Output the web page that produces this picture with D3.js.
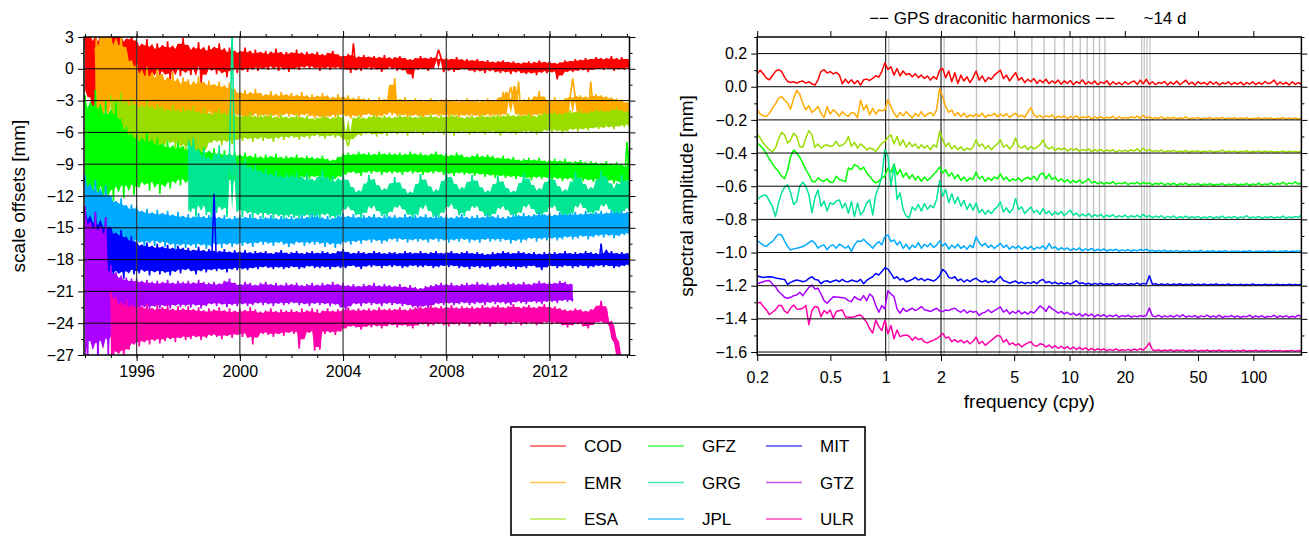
<!DOCTYPE html>
<html><head><meta charset="utf-8">
<script src="https://cdn.jsdelivr.net/npm/d3@7"></script>
<style>
html,body{margin:0;padding:0;background:#fff;}
svg{display:block;font-family:"Liberation Sans",Arial,Helvetica,sans-serif;}
</style></head><body>
<svg id="chart" width="1309" height="536"></svg>
<script>
// Analysis centres and their colours
const centres = ["COD","EMR","ESA","GFZ","GRG","JPL","MIT","GTZ","ULR"];
const colours = ["#ff0000","#ffaa00","#99dd00","#00ff00","#00e693","#00aaff","#0000ff","#aa00ff","#ff00aa"];

// Scale offsets [mm], one value every 0.1 yr starting at the listed epoch
const sampleStep = 0.1;
const offsetStart = [1994.0, 1994.4, 1995.0, 1994.0, 1998.0, 1994.0, 1994.0, 1994.0, 1995.0];

const offCOD = [
3.5,-2.0,4.0,-4.5,2.5,-5.0,3.8,-3.0,4.0,-1.5,
3.5,-2.5,3.8,0.5,3.0,-1.0,2.8,-2.0,3.5,-0.5,
2.5,-0.8,2.2,-0.5,2.8,-1.2,1.8,0.0,2.4,-0.6,
2.0,-0.4,2.6,-1.0,1.9,0.2,2.3,-0.7,2.9,-0.2,
2.1,-0.6,1.8,0.1,2.5,-1.3,1.6,-0.3,2.2,0.0,
1.9,-0.5,2.4,-0.2,1.5,-0.8,2.0,0.1,1.7,-0.4,
1.6,0.0,2.0,-0.3,1.4,0.2,1.8,-0.2,1.5,0.1,
1.7,-0.1,1.3,0.3,1.9,-0.2,1.4,0.2,1.6,-0.3,
1.5,0.1,1.8,-0.1,1.3,0.3,1.6,0.0,1.4,0.2,
1.6,-0.2,1.2,0.2,1.5,-0.1,1.7,0.1,1.3,0.0,
1.2,0.0,1.4,-0.4,2.4,0.1,1.1,-0.2,1.3,0.2,
1.1,-0.1,1.2,0.1,1.0,-0.3,1.3,0.0,0.9,0.2,
1.1,-0.2,1.2,0.0,1.0,-0.4,0.9,-0.9,1.0,-0.1,
1.2,0.0,1.0,-0.2,1.1,0.1,0.9,1.8,1.0,-0.3,
1.0,0.0,0.9,-0.3,1.1,-0.1,0.8,0.0,0.9,-0.2,
0.8,-0.3,0.9,-0.1,0.7,-0.4,0.8,0.0,0.6,-0.3,
0.7,-0.4,0.8,-0.2,0.6,-0.5,0.7,-0.1,0.5,-0.4,
0.6,-0.5,0.7,-0.3,0.5,-0.6,0.8,-0.2,0.6,-0.4,
0.7,-0.3,0.5,-1.0,0.6,-0.5,0.8,-0.2,0.7,-0.3,
0.9,-0.2,0.8,0.0,1.0,-0.3,0.9,-0.1,1.1,0.0,
1.0,-0.1,0.9,0.1,1.2,-0.2,0.8,0.0,1.1,-0.1,
0.9,0.2];

const offEMR = [
2.0,-4.5,3.5,-5.5,3.8,-3.0,
3.5,-4.8,2.0,-2.5,3.6,-4.0,1.5,-3.5,0.8,-4.5,
0.5,-4.6,-0.8,-4.2,0.2,-5.0,-1.0,-3.8,0.0,-4.4,
-0.5,-4.8,-1.2,-4.0,-0.3,-4.5,-1.5,-3.9,-0.8,-4.7,
-1.0,-4.6,-1.6,-4.2,-0.7,-5.0,-1.4,-4.0,-1.1,-4.5,
-1.5,-4.3,-1.2,-4.8,-1.8,-4.1,-1.3,-4.6,-2.0,-4.4,
-2.2,-4.5,-2.0,-4.8,-2.4,-4.2,-1.9,-4.6,-2.3,-4.4,
-2.5,-4.6,-2.1,-4.3,-2.6,-4.7,-2.2,-4.2,-2.4,-4.5,
-2.3,-4.4,-2.6,-4.6,-2.2,-4.3,-2.7,-4.5,-2.4,-4.7,
-2.6,-4.5,-2.3,-4.8,-2.5,-4.4,-2.8,-4.6,-2.4,-4.3,
-2.7,-4.5,-2.5,-4.7,-2.9,-4.4,-2.6,-4.6,-2.8,-4.3,
-2.8,-4.4,-3.0,-4.6,-2.7,-4.5,-2.9,-4.3,-1.6,-4.4,
-0.9,-4.5,-2.9,-4.3,-2.7,-4.6,-3.0,-4.4,-2.8,-4.5,
-2.9,-4.6,-3.0,-4.4,-2.8,-4.3,-3.1,-4.5,-2.9,-4.4,
-2.8,-4.5,-3.0,-4.3,-2.9,-4.6,-3.1,-4.4,-2.8,-4.5,
-3.0,-4.4,-2.9,-4.6,-3.1,-4.3,-2.8,-4.5,-3.0,-4.4,
-2.9,-4.5,-2.2,-4.4,-2.8,-1.7,-3.0,-4.3,-1.2,-4.5,
-3.0,-4.4,-2.7,-4.6,-2.9,-4.3,-2.1,-4.5,-2.8,-4.4,
-2.9,-4.5,-2.7,-4.3,-3.0,-4.6,-2.8,-4.4,-2.6,-0.9,
-2.7,-4.4,-2.5,-4.3,-2.6,-4.5,-1.2,-4.2,-2.4,-4.3,
-2.5,-4.2,-2.6,-4.4,-2.7,-4.3,-2.8,-4.5,-2.9,-4.6,
-3.2,-4.4];

const offESA = [
-2.5,-7.5,-3.0,-8.0,-2.2,-6.8,-3.5,-7.8,-2.8,-7.2,
-3.2,-7.6,-3.6,-6.9,-2.9,-7.4,-3.8,-7.0,-3.3,-7.7,
-3.5,-7.2,-3.9,-6.8,-3.4,-7.5,-4.0,-7.1,-3.6,-7.8,
-3.8,-7.3,-3.5,-7.9,-4.1,-8.5,-3.7,-7.4,-4.2,-7.0,
-4.0,-6.9,-3.8,-7.2,-4.3,-6.8,-3.9,-7.1,-4.4,-6.7,
-4.2,-6.8,-4.5,-6.6,-4.1,-6.9,-4.6,-6.5,-4.3,-6.8,
-4.4,-6.6,-4.2,-6.9,-4.7,-6.4,-4.3,-6.7,-4.5,-6.5,
-4.5,-6.5,-4.3,-6.7,-4.6,-6.4,-4.4,-6.6,-4.7,-6.3,
-4.6,-6.4,-4.4,-6.6,-4.5,-6.3,-4.7,-6.5,-4.3,-6.4,
-4.5,-6.6,-7.3,-6.2,-4.6,-6.4,-4.4,-6.3,-4.7,-6.1,
-4.5,-6.2,-4.3,-6.4,-4.6,-6.1,-4.4,-6.3,-4.5,-6.0,
-4.6,-6.2,-4.3,-6.0,-4.5,-6.3,-4.4,-6.1,-4.6,-5.9,
-4.4,-6.2,-4.5,-6.0,-4.3,-6.1,-4.6,-5.9,-4.4,-6.2,
-4.5,-6.0,-4.3,-6.3,-4.4,-6.1,-4.6,-5.9,-4.5,-6.2,
-4.4,-6.1,-4.6,-6.0,-4.3,-6.2,-4.5,-5.9,-4.4,-6.1,
-4.3,-6.3,-4.5,-6.0,-4.2,-6.1,-4.4,-6.2,-4.3,-5.9,
-4.4,-6.1,-4.2,-5.9,-4.5,-6.2,-4.3,-6.0,-4.1,-5.8,
-4.2,-6.0,-4.0,-5.8,-4.3,-6.1,-4.1,-5.9,-3.9,-5.7,
-4.1,-5.9,-3.9,-5.7,-4.2,-5.8,-4.0,-5.6,-3.8,-5.7,
-3.9,-5.6,-4.0,-5.5,-3.8,-5.7,-3.7,-5.4,-3.9,-5.5,
-4.0,-5.2];

const offGFZ = [
-2.5,-11.5,-3.5,-12.8,-2.0,-10.5,-4.0,-13.0,-3.0,-11.8,
-4.0,-12.5,-3.2,-11.0,-5.0,-12.2,-5.5,-10.8,-6.0,-11.9,
-6.2,-11.2,-6.8,-10.9,-6.0,-11.5,-7.0,-10.6,-6.5,-11.8,
-7.2,-10.8,-6.8,-11.3,-7.5,-10.5,-6.9,-11.0,-7.3,-10.4,
-7.6,-11.2,-7.0,-10.7,-7.8,-11.4,-7.4,-10.9,-7.9,-10.6,
-7.5,-10.8,-8.0,-11.1,-7.7,-10.5,-8.1,-10.9,-7.8,-10.6,
-8.2,-10.4,-7.9,-10.7,-8.3,-10.3,-8.0,-10.6,-8.4,-10.2,
-8.1,-10.5,-8.3,-10.2,-8.0,-10.6,-8.4,-10.3,-8.2,-10.4,
-8.3,-10.2,-8.1,-10.5,-8.4,-10.1,-8.2,-10.4,-8.3,-10.2,
-8.4,-10.3,-8.2,-10.1,-8.5,-10.7,-8.6,-10.4,-8.3,-10.2,
-8.0,-10.0,-7.9,-9.8,-8.1,-9.9,-7.8,-10.1,-8.0,-9.7,
-7.9,-9.9,-8.1,-9.7,-7.8,-10.0,-8.0,-9.8,-7.9,-9.9,
-8.0,-9.8,-7.9,-10.0,-8.1,-9.7,-7.8,-9.9,-8.0,-9.8,
-7.9,-10.0,-8.1,-9.8,-8.0,-9.9,-7.8,-9.7,-8.1,-10.0,
-8.0,-9.9,-8.2,-10.1,-7.9,-9.8,-8.1,-10.0,-8.3,-9.9,
-8.2,-10.1,-8.0,-9.9,-8.3,-10.2,-8.1,-10.0,-8.2,-10.3,
-8.4,-10.1,-8.2,-10.3,-8.5,-10.2,-8.3,-10.4,-8.6,-10.2,
-8.5,-10.3,-8.4,-10.5,-8.6,-10.2,-8.4,-10.4,-8.7,-10.3,
-8.6,-10.5,-8.5,-10.3,-8.7,-10.6,-8.5,-10.4,-8.8,-10.5,
-8.7,-10.4,-8.6,-10.6,-8.9,-10.5,-8.7,-10.7,-8.8,-10.4,
-8.9,-10.6,-8.7,-10.5,-9.0,-10.8,-8.8,-10.6,-9.1,-10.9,
-6.9,-10.3];

const offGRG = [
-7.0,-13.5,-6.5,-14.0,-8.0,-12.8,-7.5,-13.8,-8.5,-14.2,
-8.0,-13.6,-7.2,-13.2,-8.8,-14.0,-7.8,3.5,-9.0,-13.5,
-8.8,-14.0,-8.5,-13.6,-9.3,-14.2,-9.0,-13.8,-9.6,-14.1,
-9.4,-13.8,-9.9,-14.2,-9.6,-13.9,-10.1,-14.3,-9.8,-14.0,
-10.0,-14.1,-9.7,-14.3,-10.3,-13.9,-9.9,-14.2,-10.4,-14.0,
-10.2,-14.2,-9.5,-13.8,-10.5,-14.1,-10.1,-14.3,-10.6,-13.9,
-9.8,-13.0,-10.6,-13.3,-11.3,-13.8,-11.7,-14.1,-11.1,-13.6,
-10.0,-12.8,-10.4,-13.4,-11.1,-13.9,-11.5,-14.0,-10.9,-13.5,
-10.2,-12.9,-10.8,-13.2,-11.4,-13.7,-11.8,-14.2,-11.3,-13.8,
-9.9,-12.7,-10.5,-13.3,-11.2,-14.0,-11.6,-14.1,-11.0,-13.6,
-9.6,-12.8,-10.3,-13.1,-11.0,-13.8,-11.4,-13.9,-10.8,-13.4,
-10.0,-12.9,-10.6,-13.4,-11.3,-13.9,-11.7,-14.2,-11.1,-13.7,
-10.1,-13.0,-10.7,-13.3,-11.4,-13.8,-11.6,-14.0,-11.2,-13.6,
-9.8,-12.7,-10.4,-13.2,-11.1,-13.7,-11.5,-14.1,-10.9,-13.5,
-9.9,-12.8,-10.5,-13.4,-11.2,-13.9,-11.6,-14.0,-11.0,-13.7,
-9.7,-12.6,-10.3,-13.1,-11.0,-13.6,-11.4,-13.9,-10.8,-13.4,
-9.6,-12.7,-10.2,-13.2,-10.9,-13.8,-11.3,-14.0,-10.0,-13.3,
-10.6,-13.4];

const offJPL = [
-10.0,-16.5,-11.5,-17.2,-10.5,-16.0,-12.0,-17.0,-11.0,-16.8,
-12.0,-16.6,-12.5,-16.2,-12.2,-16.9,-13.0,-16.0,-12.8,-16.5,
-13.0,-16.4,-13.4,-16.8,-13.2,-16.2,-13.6,-16.7,-13.3,-16.3,
-13.6,-16.8,-13.4,-16.5,-13.8,-17.0,-13.5,-16.6,-13.9,-16.9,
-13.7,-16.7,-14.0,-16.9,-13.6,-16.6,-13.9,-17.0,-13.8,-16.8,
-13.7,-16.6,-14.0,-16.9,-13.8,-16.5,-14.1,-16.8,-13.9,-16.6,
-13.8,-16.7,-14.0,-16.5,-13.7,-16.8,-14.1,-16.4,-13.9,-16.6,
-14.0,-16.5,-13.8,-16.7,-14.1,-16.4,-13.9,-16.6,-14.0,-16.8,
-13.9,-16.6,-14.1,-16.4,-13.8,-16.7,-14.0,-16.5,-13.7,-16.6,
-13.8,-16.5,-14.0,-16.8,-13.9,-16.4,-14.1,-16.9,-13.8,-16.6,
-13.6,-16.4,-13.9,-16.6,-13.7,-16.3,-14.0,-16.5,-13.8,-16.2,
-13.9,-16.4,-13.7,-16.2,-14.0,-16.5,-13.8,-16.3,-13.9,-16.1,
-13.8,-16.3,-14.0,-16.1,-13.7,-16.4,-13.9,-16.2,-13.8,-16.3,
-13.9,-16.2,-13.7,-16.4,-14.0,-16.1,-13.8,-16.3,-13.9,-16.2,
-13.8,-16.4,-14.0,-16.2,-13.9,-16.3,-13.7,-16.1,-14.0,-16.4,
-13.9,-16.2,-13.8,-16.4,-14.0,-16.1,-13.7,-16.3,-13.9,-16.2,
-13.8,-16.3,-14.0,-16.1,-13.9,-16.5,-13.7,-16.2,-13.8,-16.4,
-13.6,-16.2,-13.8,-16.0,-13.7,-16.3,-13.5,-16.1,-13.7,-16.2,
-13.6,-16.0,-13.8,-16.2,-13.5,-16.1,-13.7,-15.9,-13.6,-16.1,
-13.5,-16.0,-13.7,-15.8,-13.4,-16.1,-13.6,-15.9,-13.5,-15.8,
-13.4,-15.9,-13.6,-15.7,-13.3,-16.0,-13.5,-15.8,-13.4,-15.7,
-13.5,-15.6];

const offMIT = [
-13.0,-19.8,-14.5,-20.5,-13.5,-19.0,-15.0,-20.2,-14.0,-19.5,
-15.0,-19.6,-15.5,-19.2,-15.2,-19.8,-16.0,-19.0,-15.8,-19.4,
-16.3,-19.3,-16.6,-19.0,-16.4,-19.5,-16.8,-19.1,-16.5,-19.4,
-16.8,-19.2,-16.6,-19.5,-17.0,-19.0,-16.7,-19.3,-16.9,-18.9,
-16.9,-19.1,-17.1,-19.4,-16.8,-18.9,-17.2,-19.2,-17.0,-19.0,
-11.8,-19.1,-17.2,-18.9,-17.0,-19.2,-17.3,-18.8,-17.1,-19.0,
-17.3,-18.9,-17.1,-19.0,-17.4,-18.8,-17.2,-18.9,-17.3,-18.7,
-17.2,-18.8,-17.4,-18.9,-17.3,-18.7,-17.1,-18.9,-17.4,-18.8,
-17.3,-18.7,-17.2,-18.9,-17.4,-18.8,-17.3,-18.6,-17.2,-18.8,
-17.4,-18.8,-17.2,-18.7,-17.3,-18.9,-17.4,-18.7,-17.2,-18.8,
-17.0,-18.8,-17.3,-18.6,-17.4,-18.7,-17.2,-18.9,-17.3,-18.6,
-17.4,-18.7,-17.2,-18.6,-17.3,-18.8,-17.4,-18.6,-17.3,-18.7,
-17.3,-18.6,-17.4,-18.8,-17.2,-18.7,-17.3,-18.6,-17.4,-18.7,
-17.2,-18.7,-17.4,-18.6,-17.3,-18.8,-17.2,-18.7,-17.4,-18.6,
-17.3,-18.7,-17.2,-18.6,-17.4,-18.8,-17.3,-18.7,-17.2,-18.9,
-17.4,-18.6,-17.3,-18.8,-17.4,-18.7,-17.5,-18.9,-17.3,-18.6,
-17.4,-18.7,-17.2,-18.8,-17.3,-18.6,-17.4,-18.9,-17.2,-18.7,
-17.3,-18.8,-17.4,-18.6,-17.3,-18.7,-17.5,-19.0,-17.3,-18.7,
-17.4,-18.6,-17.3,-18.8,-17.4,-18.7,-17.2,-18.6,-17.4,-18.8,
-17.3,-18.7,-17.4,-18.6,-17.2,-18.8,-17.3,-18.7,-17.4,-18.6,
-16.5,-18.7,-17.3,-18.6,-17.2,-18.8,-17.4,-18.7,-17.3,-18.6,
-17.4,-18.5];

const offGTZ = [
-13.0,-27.5,-14.5,-26.0,-13.5,-27.8,-15.0,-25.5,-14.0,-27.2,
-18.5,-24.5,-19.2,-23.5,-19.5,-23.2,-19.7,-23.0,-19.8,-22.8,
-19.8,-22.6,-20.0,-22.5,-19.9,-22.7,-20.1,-22.4,-20.0,-22.6,
-20.1,-22.4,-19.9,-22.6,-20.2,-22.3,-20.0,-22.5,-20.1,-22.4,
-20.0,-22.5,-20.2,-22.3,-19.9,-22.6,-20.1,-22.4,-20.2,-22.2,
-20.1,-22.4,-20.3,-22.2,-20.0,-22.5,-19.8,-22.3,-20.2,-22.4,
-20.3,-22.2,-20.1,-22.4,-20.2,-22.3,-20.4,-22.1,-20.2,-22.3,
-20.1,-22.2,-20.3,-22.4,-20.2,-22.1,-20.4,-22.3,-20.2,-22.2,
-20.3,-22.1,-20.2,-22.3,-20.4,-22.2,-20.3,-22.4,-20.2,-22.1,
-20.4,-22.3,-20.2,-22.2,-20.3,-22.4,-20.1,-22.2,-20.3,-22.5,
-20.2,-22.9,-20.4,-22.3,-20.3,-22.2,-20.5,-22.4,-20.3,-22.1,
-20.4,-22.3,-20.2,-22.2,-20.5,-22.4,-20.3,-22.1,-20.4,-22.3,
-20.5,-22.2,-20.3,-22.4,-20.6,-22.3,-20.4,-22.5,-20.6,-22.6,
-20.7,-22.4,-20.5,-22.6,-20.4,-22.3,-20.3,-22.2,-20.2,-22.3,
-20.3,-22.1,-20.2,-22.3,-20.4,-22.2,-20.3,-22.1,-20.2,-22.3,
-20.3,-22.2,-20.1,-22.1,-20.3,-22.3,-20.2,-22.0,-20.4,-22.2,
-20.2,-22.1,-20.3,-22.2,-20.1,-22.3,-20.2,-22.0,-20.3,-22.1,
-20.1,-22.2,-20.3,-22.0,-20.2,-22.1,-20.0,-22.2,-20.2,-22.0,
-20.1,-22.0,-20.2,-22.1,-20.0,-21.9,-20.1,-22.0,-20.3,-21.9];

const offULR = [
-21.0,-27.5,-21.5,-26.8,-22.0,-27.2,-21.8,-26.5,-22.3,-26.0,
-22.0,-26.2,-22.4,-25.8,-22.2,-26.0,-22.6,-25.6,-22.3,-25.9,
-22.5,-25.7,-22.3,-25.5,-22.7,-25.8,-22.4,-25.4,-22.6,-25.6,
-22.4,-25.5,-22.7,-25.3,-22.5,-25.6,-22.8,-25.4,-22.6,-25.2,
-22.7,-25.3,-22.5,-25.5,-22.8,-25.2,-22.6,-25.4,-22.9,-25.1,
-22.6,-25.3,-22.8,-25.0,-22.5,-26.0,-22.7,-25.2,-22.9,-25.0,
-22.8,-25.1,-22.6,-25.3,-22.9,-25.0,-22.7,-25.2,-22.8,-24.9,
-22.7,-25.0,-22.9,-26.4,-22.6,-25.1,-22.8,-24.9,-22.6,-26.6,
-22.7,-26.5,-22.8,-25.0,-22.6,-24.9,-22.8,-25.1,-22.7,-24.8,
-22.7,-24.5,-22.5,-24.3,-22.8,-24.4,-22.6,-24.6,-22.7,-24.3,
-22.6,-24.4,-22.8,-24.2,-22.5,-24.5,-22.7,-24.3,-22.6,-24.1,
-22.7,-24.4,-22.5,-24.2,-22.8,-24.3,-22.6,-24.5,-22.5,-24.2,
-22.4,-24.1,-22.6,-24.3,-22.3,-24.2,-22.5,-24.0,-22.4,-24.2,
-22.5,-24.3,-22.3,-24.1,-22.6,-24.2,-22.4,-24.0,-22.5,-24.3,
-22.4,-24.1,-22.6,-24.2,-22.3,-24.0,-22.5,-24.3,-22.4,-24.1,
-22.3,-24.0,-22.5,-24.2,-22.4,-24.1,-22.2,-23.9,-22.5,-24.2,
-22.4,-24.1,-22.3,-24.0,-22.5,-24.2,-22.4,-24.1,-22.2,-23.9,
-22.5,-24.1,-22.4,-24.0,-22.6,-24.2,-22.7,-24.4,-22.8,-24.2,
-22.6,-23.9,-22.7,-24.3,-22.9,-24.5,-22.7,-24.1,-22.5,-23.9,
-21.9,-24.0,-22.6,-24.2,-23.8,-25.2,-26.0,-27.4,-27.6,-27.8];

const offsetSeries = [offCOD, offEMR, offESA, offGFZ, offGRG, offJPL, offMIT, offGTZ, offULR];

// Spectral amplitudes [µm] on a log-spaced grid from 0.2 cpy to the daily Nyquist frequency
const fMin = 0.2, fMax = 182.625;
const spectrumShift = [0, -0.2, -0.4, -0.6, -0.8, -1.0, -1.2, -1.4, -1.6];

const ampCOD = [
78,99,78,52,42,66,93,103,93,58,
32,26,30,22,30,34,22,30,18,10,
42,93,103,83,91,78,87,72,18,46,
22,42,18,38,10,42,46,38,50,66,
58,93,143,105,120,70,110,65,95,72,
80,60,78,55,70,50,65,40,62,45,
100,110,55,95,30,85,20,70,35,60,
25,55,95,40,65,30,55,45,70,85,
100,50,70,35,60,85,40,55,25,45,
30,50,20,40,25,45,18,35,22,40,
15,35,20,38,12,30,20,42,15,30,
18,35,12,28,20,36,10,30,15,25,
12,30,15,28,35,14,40,18,45,15,
30,12,25,20,32,10,28,15,35,12,
25,40,15,28,10,30,18,26,12,32,
15,28,10,24,18,30,12,26,15,28,
10,25,16,30,12,26,14,32,18,24,
40,12,28,15,26,10,30,14,25,15];

const ampEMR = [
61,35,25,21,40,70,95,130,141,120,
101,65,130,178,155,100,61,85,45,60,
81,40,15,80,35,61,45,22,50,30,
22,45,40,12,120,60,90,30,70,35,
60,55,60,121,80,40,15,45,25,50,
30,12,40,22,50,20,35,45,25,60,
190,140,80,45,60,25,45,20,40,15,
30,20,35,20,40,15,30,25,40,18,
35,22,38,15,30,40,20,28,15,45,
75,30,15,28,12,25,18,30,10,22,
15,25,8,20,12,24,8,18,14,22,
6,18,10,20,8,16,12,22,6,18,
10,15,8,20,12,22,10,28,12,18,
6,15,10,18,5,14,9,16,6,13,
8,18,5,12,9,15,4,12,8,14,
5,11,7,15,4,12,8,13,5,11,
7,14,4,10,8,13,5,11,7,12,
4,10,8,13,5,11,6,12,5,10];

const ampESA = [
115,90,60,40,20,8,30,85,125,110,
60,80,120,100,40,35,90,135,110,35,
55,30,45,50,40,45,70,40,50,60,
100,40,65,30,55,40,20,30,25,10,
35,60,70,95,110,55,100,45,80,35,
65,40,55,28,50,30,45,20,50,35,
130,80,40,60,25,45,20,38,15,30,
20,35,80,40,55,25,45,20,40,55,
80,35,50,25,45,90,40,30,45,20,
40,25,35,50,78,40,25,38,15,30,
20,32,12,25,18,28,10,22,15,25,
8,20,12,22,8,18,12,20,6,16,
10,18,8,20,12,25,10,30,12,20,
8,15,10,18,6,14,9,16,6,12,
8,15,5,12,8,14,5,12,7,15,
5,11,8,18,5,12,7,13,5,11,
8,14,4,11,7,13,5,12,6,11,
5,10,7,12,5,11,6,10,5,12];

const ampGFZ = [
260,245,225,195,165,135,110,90,60,45,
95,180,218,200,175,140,100,70,30,25,
50,35,30,45,22,25,60,40,35,28,
110,100,130,120,100,115,80,60,35,20,
30,50,60,110,85,135,70,100,55,80,
45,70,38,60,30,55,35,50,70,90,
115,80,100,60,80,45,70,35,55,30,
50,40,85,45,60,30,50,35,55,45,
75,40,55,30,45,35,50,30,45,55,
40,60,35,70,80,45,75,40,55,30,
45,25,40,20,35,22,38,18,30,45,
20,28,15,25,12,22,15,28,12,20,
14,24,10,20,14,25,12,22,15,20,
8,18,12,20,8,16,10,18,6,15,
10,18,6,14,9,16,6,13,9,15,
6,12,9,16,5,13,8,15,6,12,
9,16,6,13,9,18,7,14,10,20,
8,16,12,24,10,20,14,26,12,22];

const ampGRG = [
118,135,145,145,110,78,17,98,160,195,
208,160,90,110,200,225,200,150,40,130,
178,78,110,50,100,90,110,118,68,98,
37,108,17,98,27,50,98,118,27,150,
195,260,420,380,200,330,120,160,60,20,
10,75,55,90,50,95,60,85,70,120,
235,140,180,100,155,95,135,80,115,60,
95,55,98,40,60,30,55,35,60,75,
105,45,70,40,60,125,60,75,35,55,
75,40,55,30,65,35,50,25,45,30,
48,22,40,55,25,38,18,32,20,35,
15,28,18,30,12,25,16,28,12,22,
15,26,10,22,14,25,12,30,14,22,
10,20,12,22,8,18,12,20,8,17,
10,20,8,16,10,18,7,15,10,18,
7,14,10,20,8,15,10,18,7,15,
10,22,8,15,10,18,7,15,10,18,
8,14,10,20,8,15,10,18,12,25];

const ampJPL = [
72,58,45,36,55,66,90,110,106,70,
36,16,22,26,30,36,46,60,72,56,
26,40,46,16,40,46,26,50,40,26,
40,6,46,70,66,80,60,46,26,50,
66,46,96,106,66,76,46,66,26,50,
20,45,30,60,25,50,35,55,30,45,
70,40,55,20,45,28,50,25,40,20,
45,30,95,60,40,55,30,45,25,40,
55,30,45,20,38,25,40,20,35,22,
38,18,32,25,40,20,55,25,35,15,
30,18,28,12,25,15,28,10,22,14,
25,10,20,12,22,8,18,12,20,8,
16,10,18,8,15,10,18,12,20,8,
14,6,12,8,14,5,11,7,13,5,
10,7,12,4,10,6,12,4,9,6,
11,4,9,6,11,4,8,6,10,4,
9,6,11,4,8,6,10,4,9,6,
10,4,8,6,11,4,9,6,10,8];

const ampMIT = [
58,54,50,52,54,52,46,44,40,38,
8,20,28,34,30,24,28,44,54,38,
34,12,26,30,20,28,34,24,38,26,
24,34,28,24,38,12,32,44,54,74,
64,85,108,100,74,44,54,34,44,24,
30,38,50,34,44,30,40,34,28,40,
60,98,84,50,44,54,30,40,22,36,
25,38,45,30,22,32,18,28,20,40,
55,30,25,15,22,28,15,22,12,20,
14,25,12,30,38,18,25,12,22,10,
18,8,16,10,20,30,12,18,8,15,
6,14,8,15,6,12,7,14,5,12,
8,13,5,12,8,16,6,14,10,60,
8,12,5,10,6,11,4,10,6,12,
4,9,6,11,4,9,5,10,4,8,
6,10,4,8,5,10,4,8,5,9,
4,8,5,10,4,8,5,9,4,8,
5,9,4,8,5,9,4,8,5,9];

const ampGTZ = [
210,218,224,230,232,210,194,165,150,130,
124,130,140,144,160,140,165,190,204,180,
184,150,110,94,114,134,132,130,128,124,
110,104,134,120,114,140,110,150,134,80,
40,80,60,170,150,134,60,34,64,44,
55,64,50,60,74,55,50,44,55,64,
48,44,54,50,60,64,50,40,55,35,
48,40,45,20,35,40,55,38,50,60,
72,40,55,30,45,35,50,30,42,28,
45,35,55,78,65,45,78,60,50,35,
45,30,40,25,35,20,32,15,30,18,
28,12,26,15,25,12,22,14,24,10,
20,14,22,10,18,12,20,14,22,65,
18,12,22,10,18,12,20,10,22,12,
25,10,18,12,20,8,18,12,22,10,
18,10,22,8,16,12,20,10,18,8,
16,12,22,8,18,10,20,8,16,12,
22,8,18,10,20,8,16,10,22,15];

const ampULR = [
294,300,275,255,225,240,254,280,280,246,
235,265,284,260,258,264,280,165,250,275,
270,213,250,233,254,203,244,250,254,213,
210,210,213,220,223,203,180,140,115,193,
153,130,193,110,160,80,133,93,100,103,
95,70,90,75,82,60,55,65,72,80,
93,113,85,90,62,75,60,72,55,68,
50,65,90,50,65,40,55,70,85,100,
95,60,75,45,55,40,50,30,45,55,
62,40,35,50,45,30,42,25,38,22,
35,20,32,18,30,15,28,14,25,12,
22,10,20,12,18,8,16,10,18,8,
14,10,16,8,18,10,20,12,30,55,
14,8,14,6,12,8,14,5,12,8,
13,5,11,7,13,5,10,7,12,5,
10,6,12,5,10,6,11,4,10,6,
12,4,9,6,11,4,9,6,10,4,
9,6,10,4,8,6,10,4,9,7];

const amplitudeSeries = [ampCOD, ampEMR, ampESA, ampGFZ, ampGRG, ampJPL, ampMIT, ampGTZ, ampULR];

// Reference lines in the spectrum panel
const annualLines = [1, 2];
const draconiticYear = 1.04;            // cpy
const draconiticOrders = d3.range(1, 16);
const fortnightLines = [24.7, 25.5, 26.4, 27.4];

// Tick values
const yearMajor = [1996, 2000, 2004, 2008, 2012];
const yearMinor = d3.range(1994, 2016);
const offsetMajor = d3.range(-27, 4, 3);
const offsetMinor = d3.range(-25.5, 3, 3);
const freqTicks = [0.2, 0.5, 1, 2, 5, 10, 20, 50, 100];
const ampMajor = [-1.6, -1.4, -1.2, -1.0, -0.8, -0.6, -0.4, -0.2, 0.0, 0.2];
const ampMinor = [-1.5, -1.3, -1.1, -0.9, -0.7, -0.5, -0.3, -0.1, 0.1, 0.3];

const svg = d3.select("#chart");
const tickFont = 16;

// ---------- left panel: scale offsets time series ----------
const L = {x0: 84, x1: 629.5, y0: 37, y1: 355};
const xT = d3.scaleLinear().domain([1993.96, 2015.1]).range([L.x0, L.x1]);
const yO = d3.scaleLinear().domain([-27, 3]).range([L.y1, L.y0]);

svg.append("clipPath").attr("id", "clipL").append("rect")
  .attr("x", L.x0).attr("y", L.y0).attr("width", L.x1 - L.x0).attr("height", L.y1 - L.y0);

const gL = svg.append("g");
const lineT = d3.line().x(d => xT(d[0])).y(d => yO(d[1]));
// filled scatter band from a 5-sample window; isolated outliers are left to the line
const bandT = d3.area().x(d => xT(d.t)).y0(d => yO(d.lo)).y1(d => yO(d.hi));
function scatterBand(vals, t0) {
  return vals.map((v, i) => {
    const w = vals.slice(Math.max(0, i - 2), Math.min(vals.length, i + 3)).sort((a, b) => a - b);
    const m = w.length;
    if (m < 4) return {t: t0 + i * sampleStep, lo: w[0], hi: w[m - 1]};
    const spread = w[m - 2] - w[1];
    const hi = (w[m - 1] - w[m - 2] > 0.6 * spread) ? w[m - 2] : (w[m - 1] + w[m - 2]) / 2;
    const lo = (w[1] - w[0] > 0.6 * spread) ? w[1] : (w[0] + w[1]) / 2;
    const pad = 0.08 * (hi - lo);
    return {t: t0 + i * sampleStep, lo: lo + pad, hi: hi - pad};
  });
}
const seriesL = gL.append("g").attr("clip-path", "url(#clipL)");
offsetSeries.forEach((vals, k) => {
  const pts = vals.map((v, i) => [offsetStart[k] + i * sampleStep, v]);
  const g = seriesL.append("g");
  g.append("path").attr("d", bandT(scatterBand(vals, offsetStart[k]))).attr("fill", colours[k]).attr("stroke", "none");
  g.append("path").attr("d", lineT(pts))
    .attr("fill", "none").attr("stroke", colours[k])
    .attr("stroke-width", 1.6).attr("stroke-linejoin", "miter").attr("stroke-miterlimit", 2);
});

// grid
gL.append("g").selectAll("line").data(yearMajor).join("line")
  .attr("x1", d => xT(d)).attr("x2", d => xT(d)).attr("y1", L.y0).attr("y2", L.y1)
  .attr("stroke", "#3a3a3a").attr("stroke-width", 1.2);
gL.append("g").selectAll("line").data(offsetMajor.filter(v => v > -27 && v < 3)).join("line")
  .attr("x1", L.x0).attr("x2", L.x1).attr("y1", d => yO(d)).attr("y2", d => yO(d))
  .attr("stroke", "#000").attr("stroke-width", 1);

function styleAxis(g) {
  g.select(".domain").remove();
  g.selectAll(".tick line").attr("stroke", "#000").attr("stroke-width", 1);
  g.selectAll("text").attr("font-size", tickFont).attr("fill", "#000")
    .attr("font-family", '"Liberation Sans",Arial,Helvetica,sans-serif');
}

const fmtInt = d3.format("d");
gL.append("g").attr("transform", `translate(${L.x0},0)`)
  .call(d3.axisLeft(yO).tickValues(offsetMajor).tickSize(6).tickPadding(4).tickFormat(fmtInt)).call(styleAxis);
gL.append("g").attr("transform", `translate(${L.x0},0)`)
  .call(d3.axisLeft(yO).tickValues(offsetMinor).tickSize(3).tickFormat("")).call(styleAxis);
gL.append("g").attr("transform", `translate(${L.x1},0)`)
  .call(d3.axisRight(yO).tickValues(offsetMajor).tickSize(6).tickFormat("")).call(styleAxis);
gL.append("g").attr("transform", `translate(${L.x1},0)`)
  .call(d3.axisRight(yO).tickValues(offsetMinor).tickSize(3).tickFormat("")).call(styleAxis);
gL.append("g").attr("transform", `translate(0,${L.y1})`)
  .call(d3.axisBottom(xT).tickValues(yearMajor).tickSize(6).tickPadding(5).tickFormat(fmtInt)).call(styleAxis);
gL.append("g").attr("transform", `translate(0,${L.y1})`)
  .call(d3.axisBottom(xT).tickValues(yearMinor).tickSize(3).tickFormat("")).call(styleAxis);
gL.append("g").attr("transform", `translate(0,${L.y0})`)
  .call(d3.axisTop(xT).tickValues(yearMajor).tickSize(6).tickFormat("")).call(styleAxis);
gL.append("g").attr("transform", `translate(0,${L.y0})`)
  .call(d3.axisTop(xT).tickValues(yearMinor).tickSize(3).tickFormat("")).call(styleAxis);

gL.append("rect").attr("x", L.x0).attr("y", L.y0).attr("width", L.x1 - L.x0).attr("height", L.y1 - L.y0)
  .attr("fill", "none").attr("stroke", "#000").attr("stroke-width", 1.5);

svg.append("text").attr("transform", `translate(25,${(L.y0 + L.y1) / 2}) rotate(-90)`)
  .attr("text-anchor", "middle").attr("font-size", 19).text("scale offsets [mm]");

// ---------- right panel: amplitude spectra ----------
const R = {x0: 757.2, x1: 1301.4, y0: 37, y1: 355};
const xF = d3.scaleLog().domain([fMin, fMax]).range([R.x0, R.x1]);
const yA = d3.scaleLinear().domain([-1.618, 0.3]).range([R.y1, R.y0]);

svg.append("clipPath").attr("id", "clipR").append("rect")
  .attr("x", R.x0).attr("y", R.y0).attr("width", R.x1 - R.x0).attr("height", R.y1 - R.y0);

const gR = svg.append("g");
const refLines = gR.append("g").attr("clip-path", "url(#clipR)");
refLines.selectAll("line.drac").data(draconiticOrders.map(n => n * draconiticYear)).join("line")
  .attr("class", "drac")
  .attr("x1", d => xF(d)).attr("x2", d => xF(d)).attr("y1", R.y0).attr("y2", R.y1)
  .attr("stroke", "#c4c4c4").attr("stroke-width", 1.4);
refLines.selectAll("line.fort").data(fortnightLines).join("line")
  .attr("class", "fort")
  .attr("x1", d => xF(d)).attr("x2", d => xF(d)).attr("y1", R.y0).attr("y2", R.y1)
  .attr("stroke", "#c4c4c4").attr("stroke-width", 1.2);
refLines.selectAll("line.ann").data(annualLines).join("line")
  .attr("class", "ann")
  .attr("x1", d => xF(d)).attr("x2", d => xF(d)).attr("y1", R.y0).attr("y2", R.y1)
  .attr("stroke", "#000").attr("stroke-width", 1);

const lineF = d3.line().x(d => xF(d[0])).y(d => yA(d[1]));
const seriesR = gR.append("g").attr("clip-path", "url(#clipR)");
amplitudeSeries.forEach((amps, k) => {
  const n = amps.length;
  const pts = amps.map((a, i) => [fMin * Math.pow(fMax / fMin, i / (n - 1)), spectrumShift[k] + a / 1000]);
  seriesR.append("path").attr("d", lineF(pts))
    .attr("fill", "none").attr("stroke", colours[k])
    .attr("stroke-width", 1.5).attr("stroke-linejoin", "round");
});

gR.append("g").selectAll("line").data(ampMajor).join("line")
  .attr("x1", R.x0).attr("x2", R.x1).attr("y1", d => yA(d)).attr("y2", d => yA(d))
  .attr("stroke", "#000").attr("stroke-width", 1);

const fmtAmp = d3.format(".1f");
const fmtFreq = d => (d < 1 ? d3.format(".1f")(d) : fmtInt(d));
gR.append("g").attr("transform", `translate(${R.x0},0)`)
  .call(d3.axisLeft(yA).tickValues(ampMajor).tickSize(6).tickPadding(4).tickFormat(fmtAmp)).call(styleAxis);
gR.append("g").attr("transform", `translate(${R.x0},0)`)
  .call(d3.axisLeft(yA).tickValues(ampMinor).tickSize(3).tickFormat("")).call(styleAxis);
gR.append("g").attr("transform", `translate(${R.x1},0)`)
  .call(d3.axisRight(yA).tickValues(ampMajor).tickSize(6).tickFormat("")).call(styleAxis);
gR.append("g").attr("transform", `translate(${R.x1},0)`)
  .call(d3.axisRight(yA).tickValues(ampMinor).tickSize(3).tickFormat("")).call(styleAxis);
gR.append("g").attr("transform", `translate(0,${R.y1})`)
  .call(d3.axisBottom(xF).tickValues(freqTicks).tickSize(6).tickPadding(11).tickFormat(fmtFreq)).call(styleAxis);
gR.append("g").attr("transform", `translate(0,${R.y0})`)
  .call(d3.axisTop(xF).tickValues(freqTicks).tickSize(6).tickFormat("")).call(styleAxis);

gR.append("rect").attr("x", R.x0).attr("y", R.y0).attr("width", R.x1 - R.x0).attr("height", R.y1 - R.y0)
  .attr("fill", "none").attr("stroke", "#000").attr("stroke-width", 1.5);

svg.append("text").attr("transform", `translate(693,${(R.y0 + R.y1) / 2}) rotate(-90)`)
  .attr("text-anchor", "middle").attr("font-size", 19).text("spectral amplitude [mm]");
svg.append("text").attr("x", (R.x0 + R.x1) / 2).attr("y", 408)
  .attr("text-anchor", "middle").attr("font-size", 19).text("frequency (cpy)");
svg.append("text").attr("x", 992).attr("y", 24)
  .attr("text-anchor", "middle").attr("font-size", 17).text("\u2212\u2212 GPS draconitic harmonics \u2212\u2212");
svg.append("text").attr("x", 1165).attr("y", 24)
  .attr("text-anchor", "middle").attr("font-size", 17).text("~14 d");

// ---------- legend ----------
const legend = svg.append("g");
legend.append("rect").attr("x", 511).attr("y", 427).attr("width", 354).attr("height", 108)
  .attr("fill", "#fff").attr("stroke", "#000").attr("stroke-width", 1.6);
const colX = [530, 648, 766], rowY = [446, 482.5, 519];
centres.forEach((name, k) => {
  const c = Math.floor(k / 3), r = k % 3;
  legend.append("line").attr("x1", colX[c]).attr("x2", colX[c] + 36)
    .attr("y1", rowY[r]).attr("y2", rowY[r])
    .attr("stroke", colours[k]).attr("stroke-width", 1.5).attr("stroke-opacity", 0.7);
  legend.append("text").attr("x", colX[c] + 54).attr("y", rowY[r]).attr("dy", "0.36em")
    .attr("font-size", 17).text(name);
});
</script>
</body></html>
